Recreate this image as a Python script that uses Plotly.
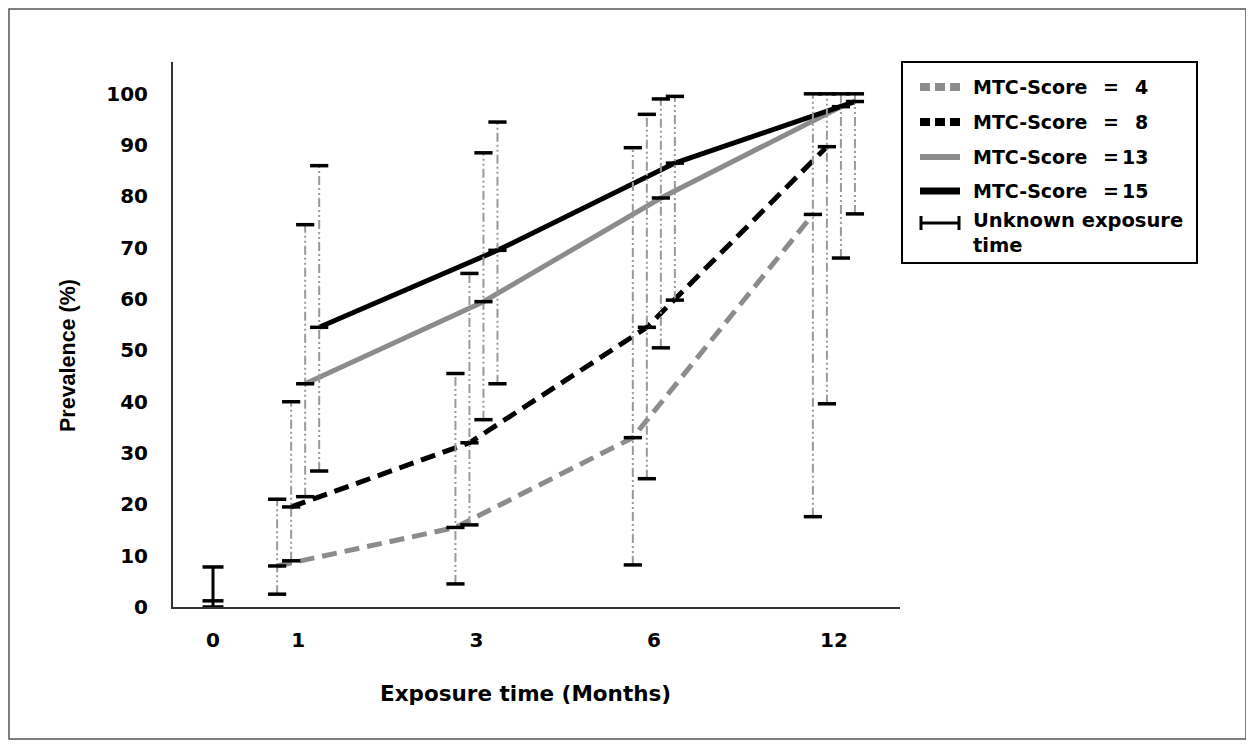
import plotly.graph_objects as go

# ---------------- data ----------------
months = ["0", "1", "3", "6", "12"]
month_pos = [0.0, 0.96, 2.97, 4.97, 7.0]          # axis position of each exposure-time group

series_names = ["MTC-Score = 4", "MTC-Score = 8", "MTC-Score = 13", "MTC-Score = 15"]
# prevalence (%) at 1, 3, 6, 12 months
mtc4 = [8.0, 15.5, 33.0, 76.5]
mtc8 = [19.5, 32.0, 54.5, 89.7]
mtc13 = [43.5, 59.5, 79.7, 97.5]
mtc15 = [54.5, 69.5, 86.5, 98.5]
# confidence intervals
mtc4_low = [2.5, 4.5, 8.2, 17.6]
mtc4_high = [21.0, 45.5, 89.5, 100.0]
mtc8_low = [9.0, 16.0, 25.0, 39.6]
mtc8_high = [40.0, 65.0, 96.0, 100.0]
mtc13_low = [21.5, 36.5, 50.5, 68.0]
mtc13_high = [74.5, 88.5, 99.0, 100.0]
mtc15_low = [26.5, 43.5, 59.8, 76.6]
mtc15_high = [86.0, 94.5, 99.5, 100.0]
# unknown exposure time (plotted at "0")
unknown = [1.2]
unknown_low = [0.0]
unknown_high = [7.8]

y_ticks = [0, 10, 20, 30, 40, 50, 60, 70, 80, 90, 100]

# ---------------- styling ----------------
GRAY = "#8c8c8c"
series_vals = [mtc4, mtc8, mtc13, mtc15]
series_low = [mtc4_low, mtc8_low, mtc13_low, mtc15_low]
series_high = [mtc4_high, mtc8_high, mtc13_high, mtc15_high]
series_color = [GRAY, "black", GRAY, "black"]
series_dash = ["15px,8px", "15px,8px", "solid", "solid"]
series_offset = [-0.237, -0.079, 0.079, 0.237]
WIDE = "DejaVu Sans, Verdana, sans-serif"
ARIAL = "Liberation Sans, Arial, sans-serif"

fig = go.Figure()

# series lines
for vals, col, dash, off, name in zip(series_vals, series_color, series_dash, series_offset, series_names):
    xs = [p + off for p in month_pos[1:]]
    fig.add_trace(go.Scatter(x=xs, y=vals, mode="lines", name=name,
                             line=dict(color=col, width=5, dash=dash)))

# error bar stems (dash-dot-dot gray)
for vals, lo, hi, off in zip(series_vals, series_low, series_high, series_offset):
    ex, ey = [], []
    for p, l, h in zip(month_pos[1:], lo, hi):
        ex += [p + off, p + off, None]
        ey += [l, h, None]
    fig.add_trace(go.Scatter(x=ex, y=ey, mode="lines", hoverinfo="skip",
                             line=dict(color="#9a9a9a", width=2,
                                       dash="9px,3px,2px,3px,2px,3px")))

# unknown exposure time stem
fig.add_trace(go.Scatter(x=[month_pos[0], month_pos[0]], y=[unknown_low[0], unknown_high[0]],
                         mode="lines", line=dict(color="black", width=3), hoverinfo="skip"))

# caps (low, value, high)
for vals, lo, hi, off in zip(series_vals, series_low, series_high, series_offset):
    cx, cy = [], []
    for p, v, l, h in zip(month_pos[1:], vals, lo, hi):
        cx += [p + off] * 3
        cy += [l, v, h]
    fig.add_trace(go.Scatter(x=cx, y=cy, mode="markers", hoverinfo="skip",
                             marker=dict(symbol="line-ew", size=13,
                                         line=dict(color="black", width=3.5))))
fig.add_trace(go.Scatter(x=[month_pos[0]] * 3, y=[unknown_low[0], unknown[0], unknown_high[0]],
                         mode="markers", hoverinfo="skip",
                         marker=dict(symbol="line-ew", size=15,
                                     line=dict(color="black", width=3.5))))

# ---------------- layout helpers (screen pixel -> paper) ----------------
L, R, T, B = 173, 900, 62, 607      # plot area as seen on the page
OFF = 8                              # default page body margin
W, H = 1254 - OFF, 747 - OFF
def px(x):
    return (x - L) / (R - L)
def py(y):
    return (B - y) / (B - T)

shapes = []
annotations = []
# outer frame
shapes.append(dict(type="rect", xref="paper", yref="paper", x0=px(9), x1=px(1246),
                   y0=py(739), y1=py(9), line=dict(color="#555555", width=1.5)))
# legend box
shapes.append(dict(type="rect", xref="paper", yref="paper", x0=px(902), x1=px(1197),
                   y0=py(263), y1=py(62), line=dict(color="black", width=2)))
leg_rows = [87, 122, 157, 191]
leg_num = ["4", "8", "13", "15"]
leg_width = [8, 8, 6, 7]
leg_dash = ["10px,5px", "10px,5px", "solid", "solid"]
LEGFONT = dict(family=WIDE, size=19, color="black", weight="bold")
for yrow, col, w, d, num in zip(leg_rows, series_color, leg_width, leg_dash, leg_num):
    shapes.append(dict(type="line", xref="paper", yref="paper", x0=px(920), x1=px(960),
                       y0=py(yrow), y1=py(yrow), line=dict(color=col, width=w, dash=d)))
    annotations.append(dict(xref="paper", yref="paper", x=px(971), y=py(yrow), text="MTC-Score",
                            xanchor="left", yanchor="middle", showarrow=False, font=LEGFONT))
    annotations.append(dict(xref="paper", yref="paper", x=px(1111), y=py(yrow), text="=",
                            xanchor="center", yanchor="middle", showarrow=False, font=LEGFONT))
    annotations.append(dict(xref="paper", yref="paper", x=px(1150), y=py(yrow), text=num,
                            xanchor="right", yanchor="middle", showarrow=False, font=LEGFONT))
# unknown exposure legend symbol
shapes.append(dict(type="line", xref="paper", yref="paper", x0=px(920), x1=px(960),
                   y0=py(223), y1=py(223), line=dict(color="black", width=3)))
for xe in (921, 959):
    shapes.append(dict(type="line", xref="paper", yref="paper", x0=px(xe), x1=px(xe),
                       y0=py(216), y1=py(230), line=dict(color="black", width=3)))
annotations.append(dict(xref="paper", yref="paper", x=px(971), y=py(233),
                        text="Unknown exposure<br>time", align="left",
                        xanchor="left", yanchor="middle", showarrow=False,
                        font=dict(family=WIDE, size=19.5, color="black", weight="bold")))
# axis titles
annotations.append(dict(xref="paper", yref="paper", x=px(68), y=py(355), text="Prevalence (%)",
                        textangle=-90, xanchor="center", yanchor="middle", showarrow=False,
                        font=dict(family=ARIAL, size=21.5, color="black", weight="bold")))
annotations.append(dict(xref="paper", yref="paper", x=px(525), y=py(693),
                        text="Exposure time (Months)", xanchor="center", yanchor="middle",
                        showarrow=False,
                        font=dict(family=WIDE, size=21.5, color="black", weight="bold")))

TICKFONT = dict(family=WIDE, size=20, color="black", weight="bold")
fig.update_layout(
    width=W, height=H,
    margin=dict(l=L - OFF, r=W - (R - OFF), t=T - OFF, b=H - (B - OFF), autoexpand=False),
    paper_bgcolor="white", plot_bgcolor="white",
    showlegend=False,
    shapes=shapes, annotations=annotations,
    xaxis=dict(range=[-0.451, 7.745], tickmode="array", tickvals=month_pos, ticktext=months,
               showgrid=False, zeroline=False, showline=True, linecolor="#333333", linewidth=2,
               ticks="", ticklabelstandoff=14, tickfont=TICKFONT),
    yaxis=dict(range=[0, 106.2], tickmode="array", tickvals=y_ticks,
               showgrid=False, zeroline=False, showline=True, linecolor="#333333", linewidth=2,
               ticks="", ticklabelstandoff=19, tickfont=TICKFONT),
)

fig.write_html("out.html")
